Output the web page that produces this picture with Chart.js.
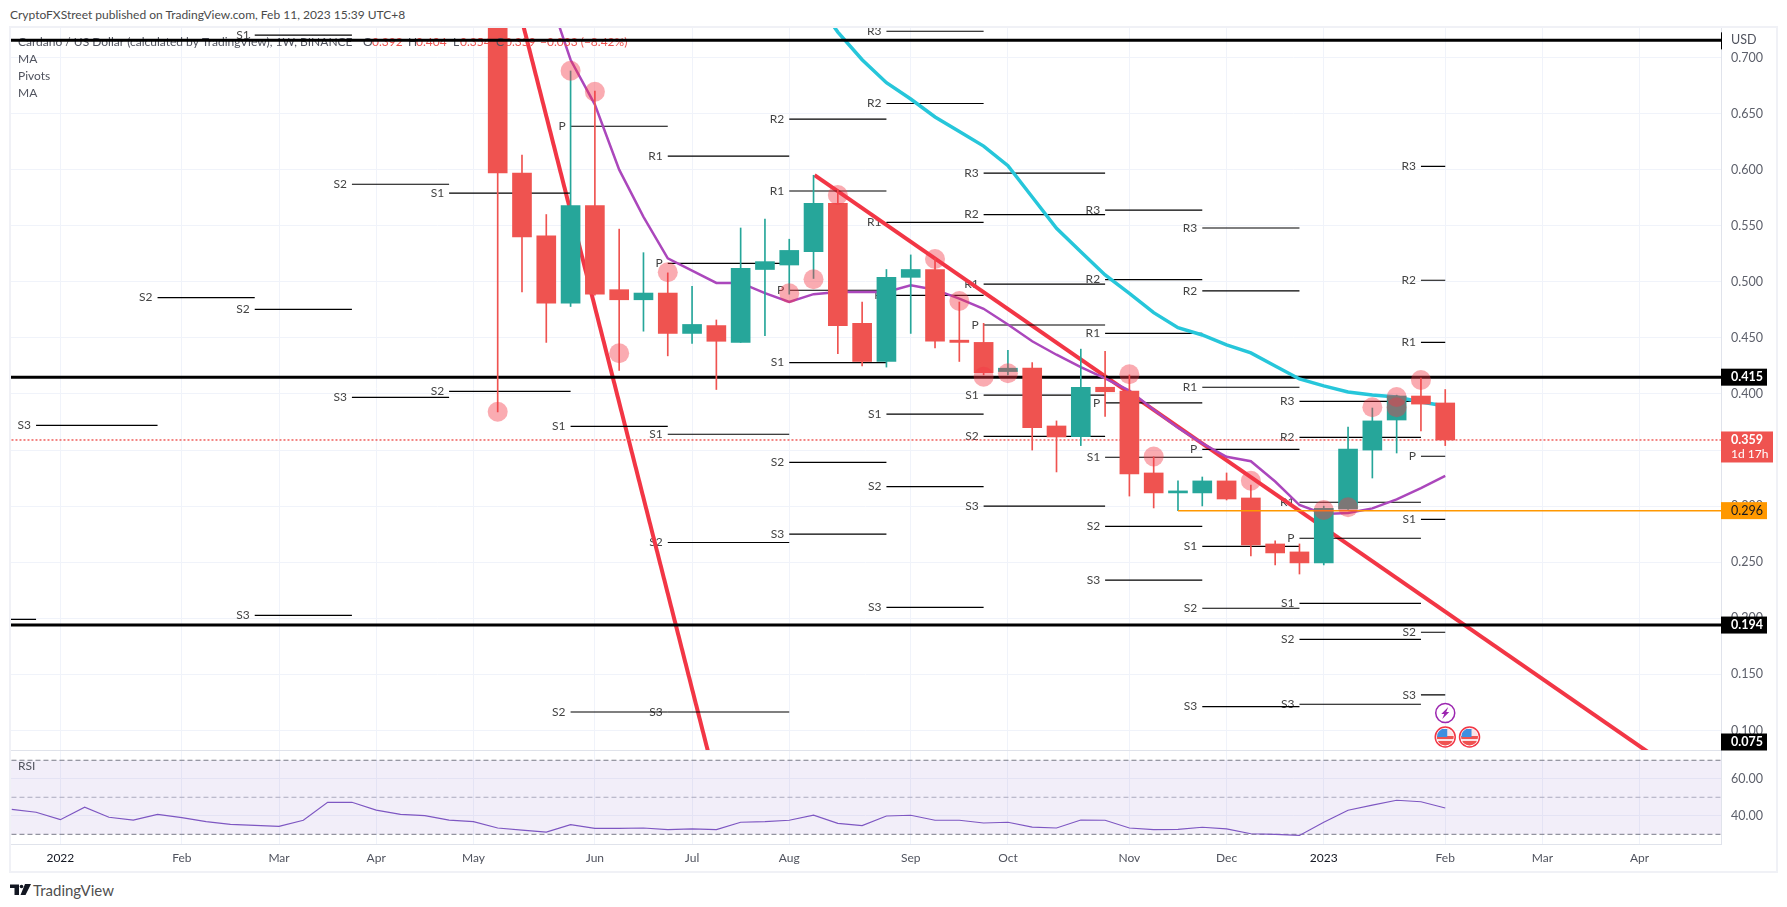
<!DOCTYPE html>
<html>
<head>
<meta charset="utf-8">
<title>ADA/USD weekly</title>
<script src="https://cdn.jsdelivr.net/npm/chart.js@4"></script>
<style>
    html, body { margin: 0; padding: 0; background: #fff; width: 1787px; height: 907px; overflow: hidden; font-family: Lato, sans-serif; }
    canvas { position: absolute; left: 0; display: block; }
    #priceChart { top: 0; }
    #rsiChart { top: 751px; }
    #frame { position: absolute; left: 9px; top: 26px; width: 1769px; height: 847px; box-sizing: border-box; border: 2px solid #f0f1f6; pointer-events: none; }
    #title { position: absolute; left: 10px; top: 6px; font-size: 12px; line-height: 18px; color: #4a4a4a; white-space: nowrap; }
    #brand { position: absolute; left: 33px; top: 880px; font-size: 15px; line-height: 20px; color: #4f4f4f; }
    #logo { position: absolute; left: 10px; top: 884px; }
</style>
</head>
<body>
<div id="title">CryptoFXStreet published on TradingView.com, Feb 11, 2023 15:39 UTC+8</div>
<canvas id="priceChart" width="1787" height="751"></canvas>
<canvas id="rsiChart" width="1787" height="122"></canvas>
<div id="frame"></div>
<svg id="logo" width="21" height="12" viewBox="0 0 21 12">
    <path d="M0 0.5H9V11H4.5V4H0Z M15 0H21L15.5 11H10.5Z" fill="#131722"/>
    <circle cx="11.5" cy="2.5" r="1.8" fill="#131722"/>
</svg>
<div id="brand">TradingView</div>

<script>
// weeks are counted from the bar of Jan 3 2022
const tickWeeks = [0, 5, 9, 13, 17, 22, 26, 30, 35, 39, 44, 48, 52, 57, 61, 65];
const tickLabels = ["2022", "Feb", "Mar", "Apr", "May", "Jun", "Jul", "Aug", "Sep", "Oct", "Nov", "Dec", "2023", "Feb", "Mar", "Apr"];
const priceTicks = [0.1, 0.15, 0.2, 0.25, 0.3, 0.35, 0.4, 0.45, 0.5, 0.55, 0.6, 0.65, 0.7];
const rsiTicks = [40, 60];
const rsiBands = [70, 50, 30];

const candleWeeks = [18, 19, 20, 21, 22, 23, 24, 25, 26, 27, 28, 29, 30, 31, 32, 33, 34, 35, 36, 37, 38, 39, 40, 41, 42, 43, 44, 45, 46, 47, 48, 49, 50, 51, 52, 53, 54, 55, 56, 57];
const opens = [0.8, 0.597, 0.541, 0.481, 0.568, 0.493, 0.484, 0.49, 0.454, 0.461, 0.446, 0.511, 0.515, 0.527, 0.57, 0.463, 0.429, 0.504, 0.511, 0.448, 0.446, 0.42, 0.423, 0.3715, 0.362, 0.406, 0.4027, 0.3296, 0.3118, 0.3118, 0.3225, 0.3073, 0.2663, 0.2592, 0.2494, 0.2975, 0.35, 0.3768, 0.3982, 0.392];
const closes = [0.597, 0.54, 0.481, 0.568, 0.489, 0.484, 0.49, 0.454, 0.462, 0.447, 0.512, 0.518, 0.528, 0.57, 0.461, 0.429, 0.504, 0.511, 0.447, 0.446, 0.419, 0.423, 0.37, 0.3617, 0.406, 0.402, 0.3287, 0.3118, 0.3136, 0.3225, 0.3064, 0.2654, 0.2583, 0.2494, 0.298, 0.351, 0.376, 0.3982, 0.391, 0.359];
const highs = [0.85, 0.613, 0.56, 0.688, 0.67, 0.547, 0.526, 0.508, 0.496, 0.466, 0.548, 0.556, 0.538, 0.595, 0.582, 0.482, 0.511, 0.524, 0.521, 0.482, 0.463, 0.439, 0.428, 0.376, 0.44, 0.438, 0.417, 0.344, 0.3225, 0.326, 0.3296, 0.3189, 0.269, 0.2663, 0.3, 0.3706, 0.3875, 0.399, 0.4143, 0.404];
const lows = [0.384, 0.491, 0.446, 0.478, 0.488, 0.421, 0.456, 0.434, 0.445, 0.404, 0.446, 0.452, 0.489, 0.503, 0.436, 0.425, 0.424, 0.454, 0.441, 0.429, 0.417, 0.417, 0.35, 0.3305, 0.354, 0.38, 0.309, 0.2984, 0.296, 0.3002, 0.3055, 0.2556, 0.2476, 0.2395, 0.2476, 0.297, 0.3251, 0.3474, 0.367, 0.354];

// MA lines, purple starts at week 20 and cyan at week 31
const purpleMa = [0.762, 0.698, 0.658, 0.6, 0.558, 0.521, 0.51, 0.499, 0.499, 0.49, 0.482, 0.489, 0.491, 0.491, 0.491, 0.497, 0.493, 0.485, 0.476, 0.462, 0.447, 0.435, 0.424, 0.414, 0.403, 0.386, 0.37, 0.356, 0.344, 0.34, 0.322, 0.301, 0.293, 0.294, 0.298, 0.306, 0.316, 0.327];
const cyanMa = [0.753, 0.7227, 0.698, 0.6775, 0.663, 0.647, 0.634, 0.621, 0.6035, 0.5756, 0.5477, 0.5269, 0.5061, 0.4898, 0.4725, 0.4591, 0.4526, 0.4437, 0.4366, 0.425, 0.4134, 0.4072, 0.4018, 0.3991, 0.3973, 0.3929, 0.3893];

// rsi starts at week -2
const rsiValues = [43.5, 41.9, 37.9, 44.6, 39.2, 37.7, 40.8, 39, 36.8, 35.4, 34.8, 34.3, 37.6, 47.3, 47.3, 43.1, 40.8, 40.1, 37.7, 36.8, 33.4, 32.3, 31.2, 35.2, 33.2, 33.2, 33.4, 32.5, 32.9, 32.5, 36.5, 36.8, 37.6, 40.3, 35.9, 34.7, 39.9, 40.3, 37.6, 37.6, 36.1, 36.5, 33.9, 33.4, 37.7, 37.6, 33.4, 32.5, 32.7, 33.8, 32.9, 30.3, 30, 29.4, 36.5, 43, 45.8, 48.4, 47.6, 44.2];

// pivots, one value per period for each level
const pivotStarts = [-3, -1, 4, 8, 12, 16, 21, 25, 30, 34, 38, 43, 47, 51, 56];
const pivotEnds = [-1, 4, 8, 12, 16, 21, 25, 30, 34, 38, 43, 47, 51, 56, 57];
const pivotR3 = [null, null, null, null, null, null, null, null, null, 0.7234, 0.597, 0.564, 0.548, 0.3935, 0.603];
const pivotR2 = [null, null, null, null, null, null, null, null, 0.645, 0.659, 0.56, 0.502, 0.492, 0.3614, 0.5014];
const pivotR1 = [null, null, null, null, null, null, null, 0.612, 0.581, 0.553, 0.498, 0.454, 0.406, 0.3035, 0.446];
const pivotP = [null, null, null, null, null, null, 0.6387, 0.5165, 0.4925, 0.488, 0.4615, 0.392, 0.3507, 0.2714, 0.3445];
const pivotS1 = [null, null, null, 0.72, null, 0.579, 0.3712, 0.3641, 0.428, 0.382, 0.399, 0.3436, 0.2642, 0.2134, 0.2883];
const pivotS2 = [null, null, 0.486, 0.4755, 0.587, 0.4024, 0.1165, 0.2676, 0.339, 0.3175, 0.3623, 0.282, 0.209, 0.1813, 0.1876];
const pivotS3 = [0.199, 0.372, null, 0.2026, 0.397, null, null, 0.1165, 0.275, 0.2097, 0.3, 0.234, 0.1213, 0.1234, 0.1317];

// pink markers
const markerWeeks = [18, 21, 22, 23, 25, 30, 31, 32, 36, 37, 38, 39, 44, 45, 49, 52, 53, 54, 55, 55, 56];
const markerValues = [0.3842, 0.6882, 0.6695, 0.4363, 0.5085, 0.4898, 0.5023, 0.5774, 0.5204, 0.4829, 0.4154, 0.4185, 0.4176, 0.3443, 0.3227, 0.2966, 0.299, 0.3882, 0.3973, 0.3882, 0.4125];

// drawn lines
const trendSteepWeeks = [18.5, 27];
const trendSteepValues = [0.7755, 0.052];
const trendLongWeeks = [31.04, 66];
const trendLongValues = [0.5952, 0.071];
const topLevel = 0.7153;
const midLevel = 0.415;
const lowLevel = 0.194;
const orangeLevel = 0.296;
const orangeFrom = 46;
const lastClose = 0.359;
const edgeWeeks = [-3, 70];

const red = "#EF5350";
const teal = "#26A69A";
const xMin = -2.073;
const xMax = 68.35;

Chart.defaults.font.family = "Lato, sans-serif";
Chart.defaults.font.size = 12;
Chart.defaults.animation = false;

function lineSet(label, weeks, values, color, width, order, extra) {
    return Object.assign({
        type: "line",
        label: label,
        data: weeks.map((w, i) => ({ x: w, y: values[i] })),
        borderColor: color,
        borderWidth: width,
        pointRadius: 0,
        tension: 0,
        fill: false,
        order: order
    }, extra || {});
}

function pivotSet(label, values) {
    const pts = [];
    values.forEach((v, i) => {
        if (v === null) return;
        pts.push({ x: pivotStarts[i], y: v }, { x: pivotEnds[i], y: v }, { x: pivotEnds[i], y: null });
    });
    return {
        type: "line",
        label: label,
        data: pts,
        borderColor: "#000",
        borderWidth: 1.2,
        pointRadius: 0,
        spanGaps: false,
        order: 70
    };
}

const pivotLevels = [
    ["R3", pivotR3], ["R2", pivotR2], ["R1", pivotR1], ["P", pivotP],
    ["S1", pivotS1], ["S2", pivotS2], ["S3", pivotS3]
];

const candleColors = candleWeeks.map((w, i) => closes[i] >= opens[i] ? teal : red);

function setTicks(values) {
    return scale => { scale.ticks = values.map(v => ({ value: v })); };
}

const gridColor = "#f0f3fa";
const edgeColor = "#e0e3eb";

function xAxis(showLabels) {
    return {
        type: "linear",
        min: xMin,
        max: xMax,
        offset: false,
        afterBuildTicks: setTicks(tickWeeks),
        afterFit: scale => {
            scale.height = showLabels ? 27 : 0;
            scale.paddingLeft = 0;
            scale.paddingRight = 0;
        },
        grid: { color: gridColor, drawTicks: false, offset: false },
        border: { color: edgeColor },
        ticks: {
            display: showLabels,
            autoSkip: false,
            maxRotation: 0,
            padding: 7,
            font: { size: 12 },
            color: ctx => (ctx.tick.value === 0 || ctx.tick.value === 52) ? "#131722" : "#50535e",
            callback: v => tickLabels[tickWeeks.indexOf(v)]
        }
    };
}

function yAxis(min, max, ticks, digits) {
    return {
        position: "right",
        min: min,
        max: max,
        afterBuildTicks: setTicks(ticks),
        afterFit: scale => {
            // keep the pane size fixed, labels may hang over the edges
            scale.width = 66;
            scale.paddingTop = 0;
            scale.paddingBottom = 0;
        },
        grid: { color: gridColor, drawTicks: false },
        border: { color: edgeColor },
        ticks: {
            autoSkip: false,
            padding: 10,
            font: { size: 12.5 },
            color: "#5d606b",
            callback: v => v.toFixed(digits)
        }
    };
}

function drawLabel(ctx, text, x, y, color, font, align) {
    ctx.font = font;
    ctx.fillStyle = color;
    ctx.textAlign = align || "left";
    ctx.textBaseline = "middle";
    ctx.fillText(text, x, y);
}

// text that sits in the pane
const headerPlugin = {
    id: "header",
    beforeDatasetsDraw(chart) {
        const ctx = chart.ctx, x = chart.scales.x, y = chart.scales.y;
        ctx.save();
        pivotLevels.forEach(level => {
            level[1].forEach((v, i) => {
                if (v === null || pivotStarts[i] < -2) return;
                drawLabel(ctx, level[0], x.getPixelForValue(pivotStarts[i]) - 5, y.getPixelForValue(v), "#444", "12px Lato", "right");
            });
        });
        ctx.restore();
    },
    afterDatasetDraw(chart, args) {
        if (args.meta.label !== "Bodies") return;
        const ctx = chart.ctx;
        ctx.save();
        const grey = "#50535e";
        drawLabel(ctx, "Cardano / US Dollar (calculated by TradingView), 1W, BINANCE", 18, 42, grey, "12px Lato");
        drawLabel(ctx, "O", 363, 42, grey, "12px Lato");
        drawLabel(ctx, "0.392", 372, 42, red, "12px Lato");
        drawLabel(ctx, "H", 408, 42, grey, "12px Lato");
        drawLabel(ctx, "0.404", 416, 42, red, "12px Lato");
        drawLabel(ctx, "L", 453, 42, grey, "12px Lato");
        drawLabel(ctx, "0.354", 460, 42, red, "12px Lato");
        drawLabel(ctx, "C", 496, 42, grey, "12px Lato");
        drawLabel(ctx, "0.359", 505, 42, red, "12px Lato");
        drawLabel(ctx, "\u22120.033 (\u22128.42%)", 540, 42, red, "12px Lato");
        drawLabel(ctx, "MA", 18, 59, grey, "12px Lato");
        drawLabel(ctx, "Pivots", 18, 76, grey, "12px Lato");
        drawLabel(ctx, "MA", 18, 93, grey, "12px Lato");
        ctx.restore();
    },
    afterDraw(chart) {
        const ctx = chart.ctx, x = chart.scales.x, y = chart.scales.y;
        const right = chart.chartArea.right, bottom = chart.chartArea.bottom;
        ctx.save();

        // top level line ends in a small mark on the axis
        ctx.fillStyle = "#000";
        ctx.fillRect(right, y.getPixelForValue(topLevel) - 8, 1, 17);
        drawLabel(ctx, "USD", right + 10, y.getPixelForValue(topLevel), "#50535e", "12.5px Lato");

        function box(value, text, bg, fg, w) {
            const py = Math.min(y.getPixelForValue(value), bottom - 8);
            ctx.fillStyle = bg;
            ctx.fillRect(right, py - 8.5, w, 17);
            drawLabel(ctx, text, right + 10, py, fg, text === "0.296" ? "12.5px Lato" : "bold 12.5px Lato");
        }
        box(midLevel, "0.415", "#000", "#fff", 46);
        box(orangeLevel, "0.296", "#FF9800", "#131722", 46);
        box(lowLevel, "0.194", "#000", "#fff", 46);
        box(0.075, "0.075", "#000", "#fff", 46);

        // last price box has the countdown under it
        const py = y.getPixelForValue(lastClose);
        ctx.fillStyle = red;
        ctx.fillRect(right, py - 8.5, 52, 31);
        drawLabel(ctx, "0.359", right + 10, py, "#fff", "bold 12.5px Lato");
        drawLabel(ctx, "1d 17h", right + 10, py + 14, "#fff", "12px Lato");

        // event icons
        const ex = x.getPixelForValue(57), ex2 = x.getPixelForValue(58);
        ctx.beginPath();
        ctx.arc(ex, bottom - 37, 9.5, 0, Math.PI * 2);
        ctx.fillStyle = "#fff";
        ctx.fill();
        ctx.strokeStyle = "#9c27b0";
        ctx.lineWidth = 1.5;
        ctx.stroke();
        ctx.beginPath();
        ctx.moveTo(ex + 3, bottom - 43);
        ctx.lineTo(ex - 4, bottom - 36);
        ctx.lineTo(ex - 1, bottom - 36);
        ctx.lineTo(ex - 3, bottom - 31);
        ctx.lineTo(ex + 4, bottom - 38);
        ctx.lineTo(ex + 1, bottom - 38);
        ctx.closePath();
        ctx.fillStyle = "#9c27b0";
        ctx.fill();

        [ex, ex2].forEach(fx => {
            const fy = bottom - 13;
            ctx.save();
            ctx.beginPath();
            ctx.arc(fx, fy, 8.5, 0, Math.PI * 2);
            ctx.clip();
            ctx.fillStyle = "#fbe3e5";
            ctx.fillRect(fx - 9, fy - 9, 18, 18);
            ctx.fillStyle = "#ef5350";
            ctx.fillRect(fx - 9, fy - 1, 18, 3);
            ctx.fillRect(fx - 9, fy + 4, 18, 5);
            ctx.fillStyle = "#3f8fe0";
            ctx.fillRect(fx - 8, fy - 8, 10, 8);
            ctx.restore();
            ctx.beginPath();
            ctx.arc(fx, fy, 10, 0, Math.PI * 2);
            ctx.strokeStyle = "#f23645";
            ctx.lineWidth = 1.5;
            ctx.stroke();
        });
        ctx.restore();
    }
};

new Chart(document.getElementById("priceChart"), {
    type: "bar",
    plugins: [headerPlugin],
    data: {
        datasets: [
            lineSet("Steep trend", trendSteepWeeks, trendSteepValues, "#F23645", 4, 90),
            lineSet("Long trend", trendLongWeeks, trendLongValues, "#F23645", 4, 90),
            lineSet("Level 0.415", edgeWeeks, [midLevel, midLevel], "#000", 3, 80),
            lineSet("Level 0.194", edgeWeeks, [lowLevel, lowLevel], "#000", 3, 80),
            lineSet("Last", edgeWeeks, [lastClose, lastClose], red, 1.4, 75, { borderDash: [2, 2] }),
            ...pivotLevels.map(level => pivotSet(level[0], level[1])),
            lineSet("MA 50", candleWeeks.slice(13), cyanMa, "#26C6DA", 3.5, 60),
            lineSet("MA 20", candleWeeks.slice(2), purpleMa, "#AB47BC", 2.5, 60),
            {
                type: "bar",
                label: "Wicks",
                data: candleWeeks.map((w, i) => ({ x: w, y: [lows[i], highs[i]] })),
                backgroundColor: candleColors,
                barThickness: 1,
                grouped: false,
                order: 50
            },
            {
                type: "bar",
                label: "Bodies",
                data: candleWeeks.map((w, i) => ({ x: w, y: [opens[i], closes[i]] })),
                backgroundColor: candleColors,
                barThickness: 19,
                grouped: false,
                order: 40
            },
            lineSet("Top level", edgeWeeks, [topLevel, topLevel], "#000", 3, 30),
            lineSet("Level 0.296", [orangeFrom, edgeWeeks[1]], [orangeLevel, orangeLevel], "#FF9800", 1.5, 20),
            {
                type: "scatter",
                label: "Markers",
                data: markerWeeks.map((w, i) => ({ x: w, y: markerValues[i] })),
                backgroundColor: "rgba(242, 54, 69, 0.42)",
                borderWidth: 0,
                pointRadius: 10,
                order: 10
            }
        ]
    },
    options: {
        responsive: false,
        layout: { autoPadding: false, padding: { left: 10, top: 27, right: 0, bottom: 1 } },
        plugins: { legend: { display: false }, tooltip: { enabled: false } },
        scales: {
            x: xAxis(false),
            y: yAxis(0.0826, 0.7272, priceTicks, 3)
        }
    }
});

const rsiHeader = {
    id: "rsiHeader",
    afterDatasetsDraw(chart) {
        chart.ctx.save();
        drawLabel(chart.ctx, "RSI", 18, 15, "#50535e", "12px Lato");
        chart.ctx.restore();
    }
};

new Chart(document.getElementById("rsiChart"), {
    type: "line",
    plugins: [rsiHeader],
    data: {
        datasets: [
            lineSet("Band top", edgeWeeks, [rsiBands[0], rsiBands[0]], "#787b86", 1, 30, {
                borderDash: [5, 3],
                fill: { value: rsiBands[2] },
                backgroundColor: "rgba(126, 87, 194, 0.1)"
            }),
            lineSet("Band mid", edgeWeeks, [rsiBands[1], rsiBands[1]], "#b2b5be", 1, 30, { borderDash: [5, 3] }),
            lineSet("Band low", edgeWeeks, [rsiBands[2], rsiBands[2]], "#787b86", 1, 30, { borderDash: [5, 3] }),
            lineSet("RSI", rsiValues.map((v, i) => i - 2), rsiValues, "#7E57C2", 1.2, 10)
        ]
    },
    options: {
        responsive: false,
        layout: { padding: { left: 10, top: 0, right: 0, bottom: 2 } },
        plugins: { legend: { display: false }, tooltip: { enabled: false } },
        scales: {
            x: xAxis(true),
            y: yAxis(24.76, 75, rsiTicks, 2)
        }
    }
});
</script>
</body>
</html>
